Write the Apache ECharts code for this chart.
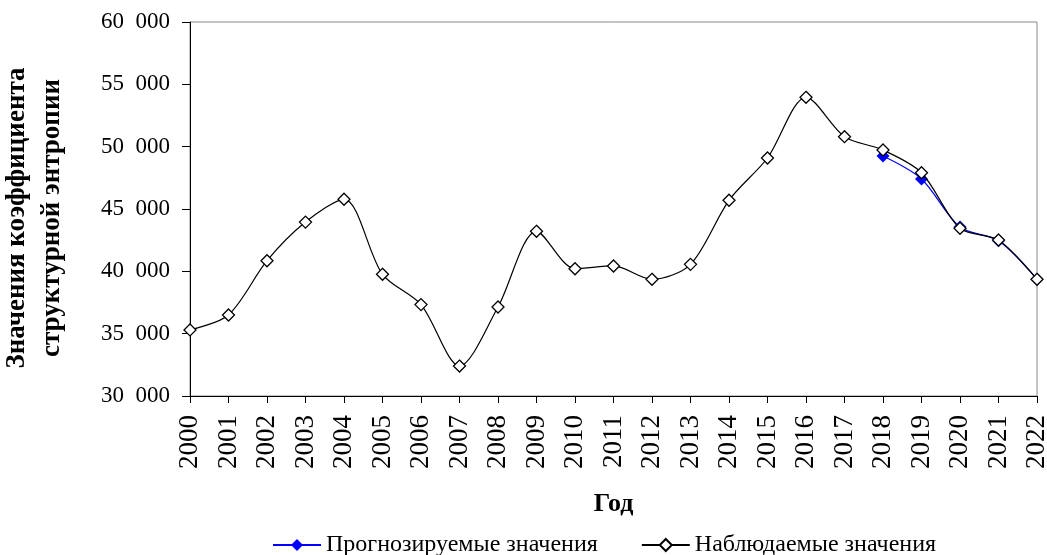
<!DOCTYPE html>
<html>
<head>
<meta charset="utf-8">
<script src="https://cdn.jsdelivr.net/npm/echarts@6/dist/echarts.min.js"></script>
<style>
    html, body { margin: 0; padding: 0; background: #fff; }
    #chart { width: 1047px; height: 555px; }
</style>
</head>
<body>
<div id="chart"></div>
<script>
const years = ['2000', '2001', '2002', '2003', '2004', '2005', '2006', '2007', '2008', '2009', '2010', '2011',
    '2012', '2013', '2014', '2015', '2016', '2017', '2018', '2019', '2020', '2021', '2022'];
const observed = [35300, 36500, 40850, 43950, 45780, 39760, 37330, 32400, 37140, 43210, 40210, 40430,
    39360, 40560, 45700, 49090, 53960, 50800, 49730, 47910, 43450, 42510, 39360];
const forecast = [null, null, null, null, null, null, null, null, null, null, null, null,
    null, null, null, null, null, null, 49250, 47410, 43550, 42450, 39360];
const yTicks = [30000, 35000, 40000, 45000, 50000, 55000, 60000];

const serif = '"Liberation Serif", "Times New Roman", serif';
const chart = echarts.init(document.getElementById('chart'));

chart.setOption({
    animation: false,
    backgroundColor: '#fff',
    textStyle: { fontFamily: serif },
    grid: {
        left: 190,
        right: 10,
        top: 22,
        bottom: 159,
        outerBoundsMode: 'none',
        containLabel: false,
        show: true,
        borderColor: '#888',
        borderWidth: 1
    },
    legend: {
        top: 528,
        left: 267,
        itemGap: 43,
        itemWidth: 48,
        itemHeight: 15,
        textStyle: { fontFamily: serif, fontSize: 24, color: '#000' },
        data: ['Прогнозируемые значения', 'Наблюдаемые значения']
    },
    xAxis: {
        type: 'category',
        data: years,
        boundaryGap: false,
        name: 'Год',
        nameLocation: 'middle',
        nameGap: 95,
        nameTextStyle: { fontFamily: serif, fontSize: 26, fontWeight: 'bold', color: '#000' },
        axisLine: { lineStyle: { color: '#000', width: 1 } },
        axisTick: { alignWithLabel: true, length: 7, lineStyle: { color: '#000' } },
        axisLabel: { rotate: 90, fontSize: 27, color: '#000', margin: 19, fontFamily: serif }
    },
    yAxis: {
        type: 'value',
        min: yTicks[0],
        max: yTicks[yTicks.length - 1],
        interval: 5000,
        name: 'Значения коэффициента\nструктурной энтропии',
        nameLocation: 'middle',
        nameGap: 120,
        nameTextStyle: {
            fontFamily: serif, fontSize: 27, fontWeight: 'bold', color: '#000',
            lineHeight: 35, padding: [0, 18, 0, 0]
        },
        axisLine: { show: true, lineStyle: { color: '#000', width: 1 } },
        axisTick: { show: true, length: 8, lineStyle: { color: '#000' } },
        splitLine: { show: false },
        axisLabel: {
            fontSize: 23,
            color: '#000',
            margin: 20,
            fontFamily: serif,
            formatter: v => String(v).replace(/\B(?=(\d{3})+(?!\d))/g, '\u2007')
        }
    },
    series: [
        {
            name: 'Прогнозируемые значения',
            type: 'line',
            data: forecast,
            smooth: 0.3,
            symbol: 'diamond',
            symbolSize: 13,
            color: '#0000ff',
            itemStyle: { color: '#0000ff' },
            lineStyle: { color: '#0000ff', width: 1.2 },
            z: 2
        },
        {
            name: 'Наблюдаемые значения',
            type: 'line',
            data: observed,
            smooth: 0.3,
            symbol: 'diamond',
            symbolSize: 12,
            color: '#000',
            itemStyle: { color: '#fff', borderColor: '#000', borderWidth: 1.3 },
            lineStyle: { color: '#000', width: 1.2 },
            z: 3
        }
    ]
});
</script>
</body>
</html>
